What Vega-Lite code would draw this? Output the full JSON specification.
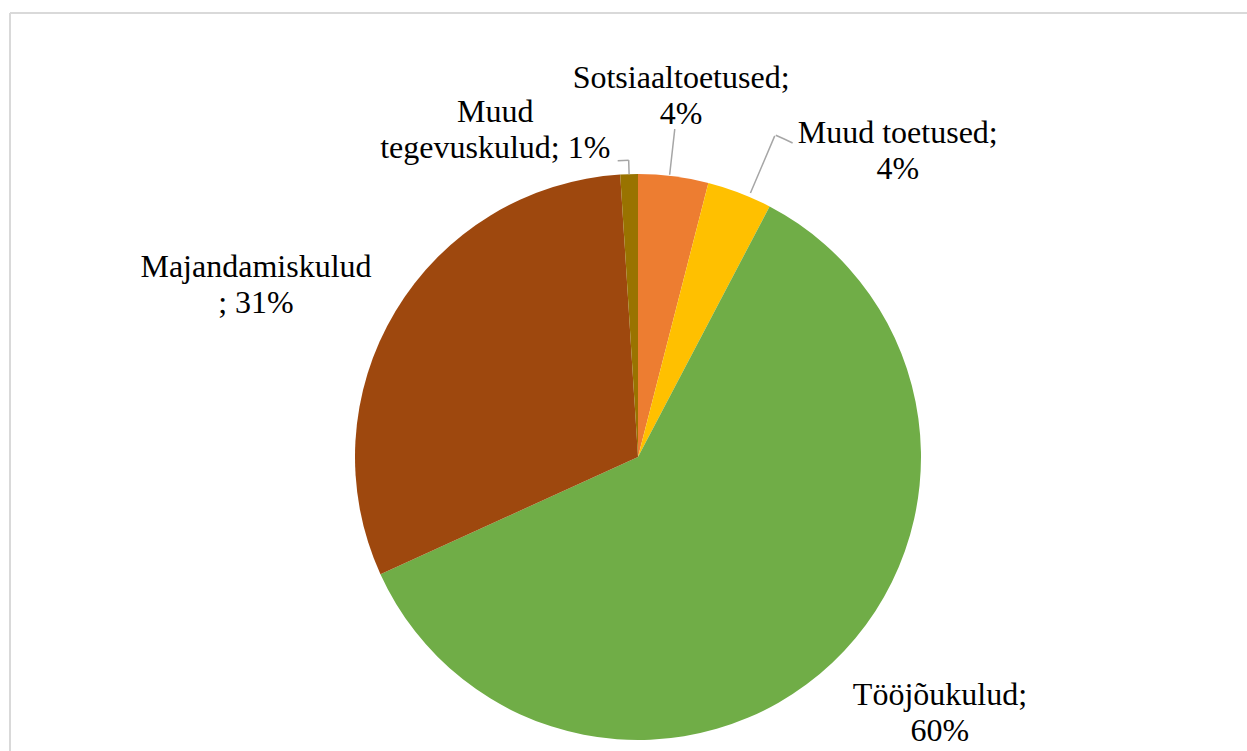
{
  "$schema": "https://vega.github.io/schema/vega-lite/v6.json",
  "width": 1237,
  "height": 738,
  "autosize": {"type": "none"},
  "padding": {"left": 10, "top": 13, "right": 0, "bottom": 0},
  "background": "white",
  "config": {"view": {"stroke": null}},
  "data": {
    "values": [
      {"idx": 1, "name": "Sotsiaaltoetused", "value": 4.0, "label": "Sotsiaaltoetused;\n4%"},
      {"idx": 2, "name": "Muud toetused", "value": 3.7, "label": "Muud toetused;\n4%"},
      {"idx": 3, "name": "Tööjõukulud", "value": 60.5, "label": "Tööjõukulud;\n60%"},
      {"idx": 4, "name": "Majandamiskulud", "value": 30.8, "label": "Majandamiskulud\n; 31%"},
      {"idx": 5, "name": "Muud tegevuskulud", "value": 1.0, "label": "Muud\ntegevuskulud; 1%"}
    ]
  },
  "layer": [
    {
      "mark": {"type": "rule", "stroke": "#d9d9d9", "strokeWidth": 2},
      "encoding": {"x": {"value": 0}}
    },
    {
      "mark": {"type": "rule", "stroke": "#d9d9d9", "strokeWidth": 2},
      "encoding": {"y": {"value": 0}}
    },
    {
      "mark": {"type": "arc", "radius": 283, "xOffset": 9.5, "yOffset": 75},
      "encoding": {
        "theta": {"field": "value", "type": "quantitative", "stack": true, "scale": {"domain": [0, 100]}},
        "order": {"field": "idx", "type": "quantitative"},
        "color": {
          "field": "name", "type": "nominal", "legend": null,
          "scale": {
            "domain": ["Sotsiaaltoetused", "Muud toetused", "Tööjõukulud", "Majandamiskulud", "Muud tegevuskulud"],
            "range": ["#ED7D31", "#FFC000", "#70AD47", "#9E480E", "#997300"]
          }
        }
      }
    },
    {
      "transform": [
        {"stack": "value", "groupby": [], "sort": [{"field": "idx", "order": "ascending"}], "as": ["s0", "s1"]},
        {"calculate": "(datum.s0 + datum.s1) / 2", "as": "mid"},
        {"filter": "datum.idx == 1"}
      ],
      "mark": {"type": "arc", "radius": 330, "radius2": 284, "thetaOffset": -0.014, "theta2Offset": -0.014, "filled": false, "stroke": "#a6a6a6", "strokeWidth": 1.5, "xOffset": 9.5, "yOffset": 75},
      "encoding": {
        "theta": {"field": "mid", "type": "quantitative", "stack": null, "scale": {"domain": [0, 100]}},
        "theta2": {"field": "mid"}
      }
    },
    {
      "transform": [
        {"stack": "value", "groupby": [], "sort": [{"field": "idx", "order": "ascending"}], "as": ["s0", "s1"]},
        {"calculate": "(datum.s0 + datum.s1) / 2", "as": "mid"},
        {"filter": "datum.idx == 2"}
      ],
      "mark": {"type": "arc", "radius": 349, "radius2": 287, "thetaOffset": 0.035, "theta2Offset": 0.035, "filled": false, "stroke": "#a6a6a6", "strokeWidth": 1.5, "xOffset": 9.5, "yOffset": 75},
      "encoding": {
        "theta": {"field": "mid", "type": "quantitative", "stack": null, "scale": {"domain": [0, 100]}},
        "theta2": {"field": "mid"}
      }
    },
    {
      "transform": [
        {"stack": "value", "groupby": [], "sort": [{"field": "idx", "order": "ascending"}], "as": ["s0", "s1"]},
        {"calculate": "(datum.s0 + datum.s1) / 2", "as": "mid"},
        {"filter": "datum.idx == 2"}
      ],
      "mark": {"type": "arc", "radius": 350, "radius2": 350, "thetaOffset": 0.037, "theta2Offset": 0.090, "filled": false, "stroke": "#a6a6a6", "strokeWidth": 1.5, "xOffset": 9.5, "yOffset": 75},
      "encoding": {
        "theta": {"field": "mid", "type": "quantitative", "stack": null, "scale": {"domain": [0, 100]}},
        "theta2": {"field": "mid"}
      }
    },
    {
      "transform": [
        {"stack": "value", "groupby": [], "sort": [{"field": "idx", "order": "ascending"}], "as": ["s0", "s1"]},
        {"calculate": "(datum.s0 + datum.s1) / 2", "as": "mid"},
        {"filter": "datum.idx == 5"}
      ],
      "mark": {"type": "arc", "radius": 297, "radius2": 283, "filled": false, "stroke": "#a6a6a6", "strokeWidth": 1.5, "xOffset": 9.5, "yOffset": 75},
      "encoding": {
        "theta": {"field": "mid", "type": "quantitative", "stack": null, "scale": {"domain": [0, 100]}},
        "theta2": {"field": "mid"}
      }
    },
    {
      "transform": [
        {"stack": "value", "groupby": [], "sort": [{"field": "idx", "order": "ascending"}], "as": ["s0", "s1"]},
        {"calculate": "(datum.s0 + datum.s1) / 2", "as": "mid"},
        {"filter": "datum.idx == 5"}
      ],
      "mark": {"type": "arc", "radius": 297, "radius2": 297, "theta2Offset": -0.037, "filled": false, "stroke": "#a6a6a6", "strokeWidth": 1.5, "xOffset": 9.5, "yOffset": 75},
      "encoding": {
        "theta": {"field": "mid", "type": "quantitative", "stack": null, "scale": {"domain": [0, 100]}},
        "theta2": {"field": "mid"}
      }
    },
    {
      "transform": [
        {"stack": "value", "groupby": [], "sort": [{"field": "idx", "order": "ascending"}], "as": ["s0", "s1"]},
        {"calculate": "(datum.s0 + datum.s1) / 2", "as": "mid"},
        {"filter": "datum.idx == 1"}
      ],
      "mark": {"type": "text", "radius": 364, "thetaOffset": -0.007, "font": "Liberation Serif", "fontSize": 32, "lineHeight": 36, "lineBreak": "\n", "align": "center", "baseline": "middle", "dy": -18, "color": "#000000", "xOffset": 9.5, "yOffset": 75},
      "encoding": {
        "theta": {"field": "mid", "type": "quantitative", "stack": null, "scale": {"domain": [0, 100]}},
        "text": {"field": "label"}
      }
    },
    {
      "transform": [
        {"stack": "value", "groupby": [], "sort": [{"field": "idx", "order": "ascending"}], "as": ["s0", "s1"]},
        {"calculate": "(datum.s0 + datum.s1) / 2", "as": "mid"},
        {"filter": "datum.idx == 2"}
      ],
      "mark": {"type": "text", "radius": 401, "thetaOffset": 0.337, "font": "Liberation Serif", "fontSize": 32, "lineHeight": 36, "lineBreak": "\n", "align": "center", "baseline": "middle", "dy": -18, "color": "#000000", "xOffset": 9.5, "yOffset": 75},
      "encoding": {
        "theta": {"field": "mid", "type": "quantitative", "stack": null, "scale": {"domain": [0, 100]}},
        "text": {"field": "label"}
      }
    },
    {
      "transform": [
        {"stack": "value", "groupby": [], "sort": [{"field": "idx", "order": "ascending"}], "as": ["s0", "s1"]},
        {"calculate": "(datum.s0 + datum.s1) / 2", "as": "mid"},
        {"filter": "datum.idx == 3"}
      ],
      "mark": {"type": "text", "radius": 396, "thetaOffset": -0.110, "font": "Liberation Serif", "fontSize": 32, "lineHeight": 36, "lineBreak": "\n", "align": "center", "baseline": "middle", "dy": -18, "color": "#000000", "xOffset": 9.5, "yOffset": 75},
      "encoding": {
        "theta": {"field": "mid", "type": "quantitative", "stack": null, "scale": {"domain": [0, 100]}},
        "text": {"field": "label"}
      }
    },
    {
      "transform": [
        {"stack": "value", "groupby": [], "sort": [{"field": "idx", "order": "ascending"}], "as": ["s0", "s1"]},
        {"calculate": "(datum.s0 + datum.s1) / 2", "as": "mid"},
        {"filter": "datum.idx == 4"}
      ],
      "mark": {"type": "text", "radius": 419, "thetaOffset": -0.117, "font": "Liberation Serif", "fontSize": 32, "lineHeight": 36, "lineBreak": "\n", "align": "center", "baseline": "middle", "dy": -18, "color": "#000000", "xOffset": 9.5, "yOffset": 75},
      "encoding": {
        "theta": {"field": "mid", "type": "quantitative", "stack": null, "scale": {"domain": [0, 100]}},
        "text": {"field": "label"}
      }
    },
    {
      "transform": [
        {"stack": "value", "groupby": [], "sort": [{"field": "idx", "order": "ascending"}], "as": ["s0", "s1"]},
        {"calculate": "(datum.s0 + datum.s1) / 2", "as": "mid"},
        {"filter": "datum.idx == 5"}
      ],
      "mark": {"type": "text", "radius": 357, "thetaOffset": -0.380, "font": "Liberation Serif", "fontSize": 32, "lineHeight": 36, "lineBreak": "\n", "align": "center", "baseline": "middle", "dy": -18, "color": "#000000", "xOffset": 9.5, "yOffset": 75},
      "encoding": {
        "theta": {"field": "mid", "type": "quantitative", "stack": null, "scale": {"domain": [0, 100]}},
        "text": {"field": "label"}
      }
    }
  ]
}
